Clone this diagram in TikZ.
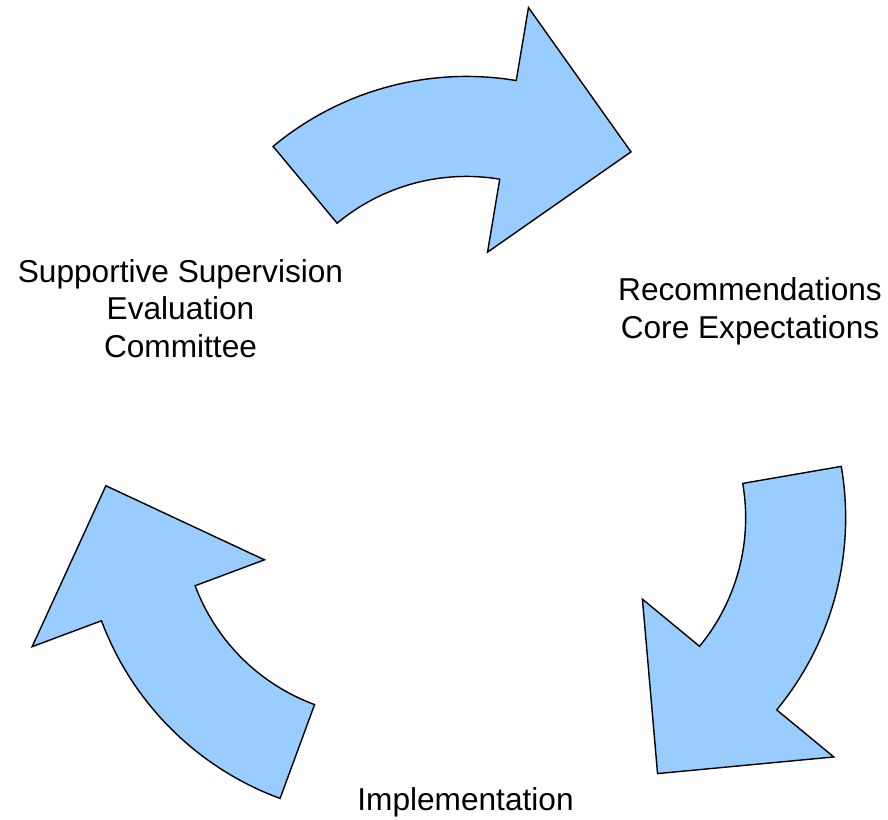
\documentclass[tikz,border=0pt]{standalone}
\usepackage{fontspec}
\setmainfont{Liberation Sans}
\definecolor{arrowblue}{HTML}{99CCFF}
\tikzset{
  cyclearrow/.style={fill=arrowblue, draw=black, line width=0.8pt, line join=miter},
  steplabel/.style={align=center, inner sep=0pt, font=\fontsize{18}{21.5}\selectfont}
}
\begin{document}
\begin{tikzpicture}[x=0.02cm, y=0.02cm]
    \useasboundingbox (0,0) rectangle (888,819);
    \coordinate (O) at (464.8,348.6);
    \foreach \r in {0,-120,-240}{
        \begin{scope}[shift={(O)}, rotate=\r, shift={(89:92)}]
            \filldraw[cyclearrow] (129.8:302) arc[start angle=129.8, end angle=80.5, radius=302]
                -- (80.5:376) -- (54:280) -- (80.5:128) -- (80.5:202)
                arc[start angle=80.5, end angle=129.8, radius=202] -- cycle;
        \end{scope}
    }
    \node[steplabel] (sse) at (180.5,510.5) {Supportive Supervision\\Evaluation\\Committee};
    \node[steplabel] (rce) at (750,507.5) {Recommendations\\Core Expectations};
    \node[steplabel] (imp) at (465.5,17) {Implementation};
\end{tikzpicture}
\end{document}
